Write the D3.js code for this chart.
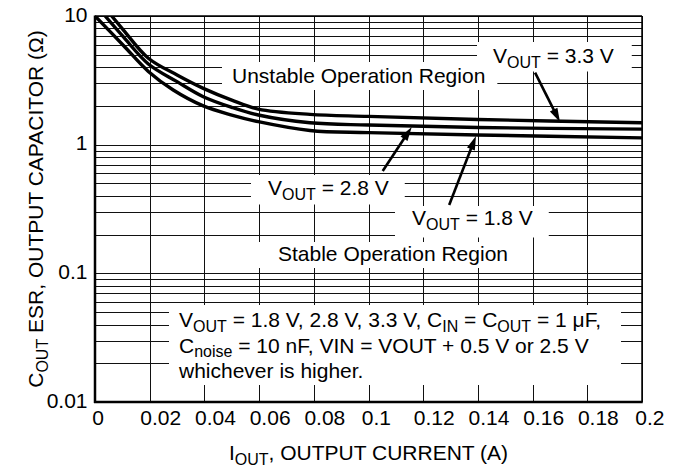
<!DOCTYPE html>
<html>
<head>
<meta charset="utf-8">
<script src="https://cdn.jsdelivr.net/npm/d3@7"></script>
<style>
  html, body { margin: 0; padding: 0; background: #fff; }
  svg { display: block; }
  text { font-family: "Liberation Sans", Arial, Helvetica, sans-serif; fill: #000; }
</style>
</head>
<body>
<svg id="chart" width="676" height="468"></svg>
<script>
// Output current (A) and minimum stable ESR (ohm) for each output voltage
const iout18 = [0, 0.0104, 0.0195, 0.0286, 0.0396, 0.05, 0.0597, 0.0786, 0.1, 0.14, 0.2];
const esr18  = [10, 5.90, 3.71, 2.66, 2.0, 1.70, 1.51, 1.29, 1.24, 1.19, 1.13];
const iout28 = [0.0037, 0.0104, 0.0195, 0.03, 0.0396, 0.05, 0.0597, 0.0786, 0.1, 0.14, 0.2];
const esr28  = [10, 6.87, 4.24, 3.09, 2.36, 1.95, 1.70, 1.48, 1.42, 1.36, 1.32];
const iout33 = [0.0061, 0.0104, 0.0195, 0.03, 0.0396, 0.05, 0.0597, 0.0786, 0.1, 0.14, 0.2];
const esr33  = [10, 7.78, 4.70, 3.48, 2.74, 2.22, 1.89, 1.72, 1.66, 1.57, 1.48];

const xTicks = [0, 0.02, 0.04, 0.06, 0.08, 0.1, 0.12, 0.14, 0.16, 0.18, 0.2];
const xTickLabels = ["0", "0.02", "0.04", "0.06", "0.08", "0.1", "0.12", "0.14", "0.16", "0.18", "0.2"];
const yTicks = [0.01, 0.1, 1, 10];
const yTickLabels = ["0.01", "0.1", "1", "10"];

const W = 676, H = 468;
const margin = { top: 16, right: 34, bottom: 66, left: 95 };
const svg = d3.select("#chart");

const x = d3.scaleLinear().domain([0, 0.2]).range([margin.left, W - margin.right]);
const y = d3.scaleLog().domain([0.01, 10]).range([H - margin.bottom, margin.top]);

const FS = 21, SUB = 16, SUBDY = 4.5;

// Writes a text made of normal and subscript parts
function rich(parent, parts, px, py, anchor, fs) {
  const t = parent.append("text")
    .attr("x", px).attr("y", py)
    .attr("text-anchor", anchor || "start")
    .style("font-size", (fs || FS) + "px");
  let shifted = false;
  parts.forEach(p => {
    const s = typeof p === "string" ? { t: p, sub: false } : p;
    const ts = t.append("tspan").text(s.t);
    if (s.sub) {
      ts.style("font-size", SUB + "px");
      if (!shifted) { ts.attr("dy", SUBDY); shifted = true; }
    } else if (shifted) {
      ts.attr("dy", -SUBDY); shifted = false;
    }
  });
  return t;
}
const sub = s => ({ t: s, sub: true });

// ---- grid ----
const grid = svg.append("g").attr("stroke", "#111").attr("stroke-width", 1).attr("fill", "none");
const logLines = [];
[0.01, 0.1, 1].forEach(dec => { for (let k = 1; k <= 9; k++) logLines.push(dec * k); });
logLines.push(10);
grid.selectAll("line.h").data(logLines).join("line").attr("class", "h")
  .attr("x1", x(0)).attr("x2", x(0.2))
  .attr("y1", d => Math.round(y(d)) + 0.5).attr("y2", d => Math.round(y(d)) + 0.5);
grid.selectAll("line.v").data(xTicks).join("line").attr("class", "v")
  .attr("x1", d => Math.round(x(d)) + 0.5).attr("x2", d => Math.round(x(d)) + 0.5)
  .attr("y1", y(10)).attr("y2", y(0.01));

// ---- layers ----
const boxes = svg.append("g");
const curvesG = svg.append("g");
const frameG = svg.append("g");
const labels = svg.append("g");

// ---- region and curve labels, each on a white box that blanks the grid ----
const annotations = [];
function annot(parts, px, py, pad) {
  const t = rich(labels, parts, px, py, "start");
  annotations.push({ t, pad });
  return t;
}
annot(["Unstable Operation Region"], 232, 83, [10, 2, 12, 3]);
annot(["V", sub("OUT"), " = 3.3 V"], 493, 63, [16, 2, 18, 1]);
annot(["V", sub("OUT"), " = 2.8 V"], 268, 195, [17, 1, 16, 2]);
annot(["V", sub("OUT"), " = 1.8 V"], 412, 225, [17, 0, 16, 5]);
annot(["Stable Operation Region"], 278, 261, [26, 0, 12, 3]);

const noteLines = [
  ["V", sub("OUT"), " = 1.8 V, 2.8 V, 3.3 V, C", sub("IN"), " = C", sub("OUT"), " = 1 \u03bcF,"],
  ["C", sub("noise"), " = 10 nF, VIN = VOUT + 0.5 V or 2.5 V"],
  ["whichever is higher."]
];
const noteTexts = noteLines.map((ln, i) => rich(labels, ln, 179, 327 + i * 25.5, "start"));

annotations.forEach(a => {
  const b = a.t.node().getBBox();
  boxes.append("rect")
    .attr("x", b.x - a.pad[0]).attr("y", b.y - a.pad[1])
    .attr("width", b.width + a.pad[0] + a.pad[2]).attr("height", b.height + a.pad[1] + a.pad[3])
    .attr("fill", "#fff");
});
{
  const bb = noteTexts.map(t => t.node().getBBox());
  const x0 = d3.min(bb, b => b.x), x1 = d3.max(bb, b => b.x + b.width);
  const y0 = d3.min(bb, b => b.y), y1 = d3.max(bb, b => b.y + b.height);
  boxes.append("rect").attr("x", x0 - 9).attr("y", y0 - 3)
    .attr("width", x1 - x0 + 9 + 20).attr("height", y1 - y0 + 6).attr("fill", "#fff");
}

// ---- curves ----
const series = [
  { name: "1.8", xs: iout18, ys: esr18 },
  { name: "2.8", xs: iout28, ys: esr28 },
  { name: "3.3", xs: iout33, ys: esr33 }
];
svg.append("clipPath").attr("id", "plotClip").append("rect")
  .attr("x", x(0)).attr("y", y(10)).attr("width", x(0.2) - x(0)).attr("height", y(0.01) - y(10));
const line = d3.line().x(d => x(d[0])).y(d => y(d[1])).curve(d3.curveCatmullRom.alpha(0.5));
curvesG.attr("clip-path", "url(#plotClip)");
curvesG.selectAll("path").data(series).join("path")
  .attr("d", s => line(s.xs.map((v, i) => [v, s.ys[i]])))
  .attr("fill", "none").attr("stroke", "#000").attr("stroke-width", 3.4)
  .attr("stroke-linejoin", "round");

// ---- frame ----
frameG.append("line").attr("x1", x(0)).attr("x2", x(0)).attr("y1", y(10) - 0.5).attr("y2", y(0.01) + 1)
  .attr("stroke", "#000").attr("stroke-width", 2.5);
frameG.append("line").attr("x1", x(0) - 1).attr("x2", x(0.2) + 0.75).attr("y1", y(0.01)).attr("y2", y(0.01))
  .attr("stroke", "#000").attr("stroke-width", 2.5);
frameG.append("line").attr("x1", x(0.2)).attr("x2", x(0.2)).attr("y1", y(10)).attr("y2", y(0.01))
  .attr("stroke", "#000").attr("stroke-width", 1.5);
frameG.append("line").attr("x1", x(0)).attr("x2", x(0.2)).attr("y1", y(10)).attr("y2", y(10))
  .attr("stroke", "#000").attr("stroke-width", 1.5);

// ---- arrows pointing at curves ----
function valueAt(s, xv) {
  const i = d3.bisectRight(s.xs, xv) - 1;
  const x0 = s.xs[i], x1 = s.xs[i + 1];
  const f = (xv - x0) / (x1 - x0);
  return Math.pow(10, Math.log10(s.ys[i]) * (1 - f) + Math.log10(s.ys[i + 1]) * f);
}
const arrowSpecs = [
  { s: series[2], tail: [0.1609, 3.63], headX: 0.170 },
  { s: series[1], tail: [0.1052, 0.625], headX: 0.1158 },
  { s: series[0], tail: [0.1295, 0.34], headX: 0.1393 }
];
const arrows = svg.append("g");
arrowSpecs.forEach(a => {
  const tx = x(a.tail[0]), ty = y(a.tail[1]);
  const hx = x(a.headX), hy = y(valueAt(a.s, a.headX)) + 1;
  const ang = Math.atan2(hy - ty, hx - tx);
  const L = 14, HW = 4.2;
  const bx = hx - L * Math.cos(ang), by = hy - L * Math.sin(ang);
  arrows.append("line").attr("x1", tx).attr("y1", ty).attr("x2", bx + 2 * Math.cos(ang)).attr("y2", by + 2 * Math.sin(ang))
    .attr("stroke", "#000").attr("stroke-width", 2.6);
  const px = -Math.sin(ang), py = Math.cos(ang);
  arrows.append("path")
    .attr("d", `M${hx},${hy}L${bx + HW * px},${by + HW * py}L${bx - HW * px},${by - HW * py}Z`)
    .attr("fill", "#000");
});

// ---- axis tick labels ----
const xl = svg.append("g");
xTicks.forEach((v, i) => {
  const t = xl.append("text").attr("x", x(v)).attr("y", y(0.01) + 23)
    .attr("text-anchor", "start").style("font-size", FS + "px").text(xTickLabels[i]);
  const w = t.node().getComputedTextLength();
  t.attr("x", x(v) - 0.23 * w);
});
const yl = svg.append("g");
yTicks.forEach((v, i) => {
  yl.append("text").attr("x", 87.5).attr("y", y(v) + 5.5)
    .attr("text-anchor", "end").style("font-size", FS + "px").text(yTickLabels[i]);
});

// ---- axis titles ----
rich(svg, ["I", sub("OUT"), ", OUTPUT CURRENT (A)"], (x(0) + x(0.2)) / 2, 460, "middle");
const yt = svg.append("g").attr("transform", `translate(43,${(y(10) + y(0.01)) / 2}) rotate(-90)`);
rich(yt, ["C", sub("OUT"), " ESR, OUTPUT CAPACITOR (\u03a9)"], 0, 0, "middle");
</script>
</body>
</html>
